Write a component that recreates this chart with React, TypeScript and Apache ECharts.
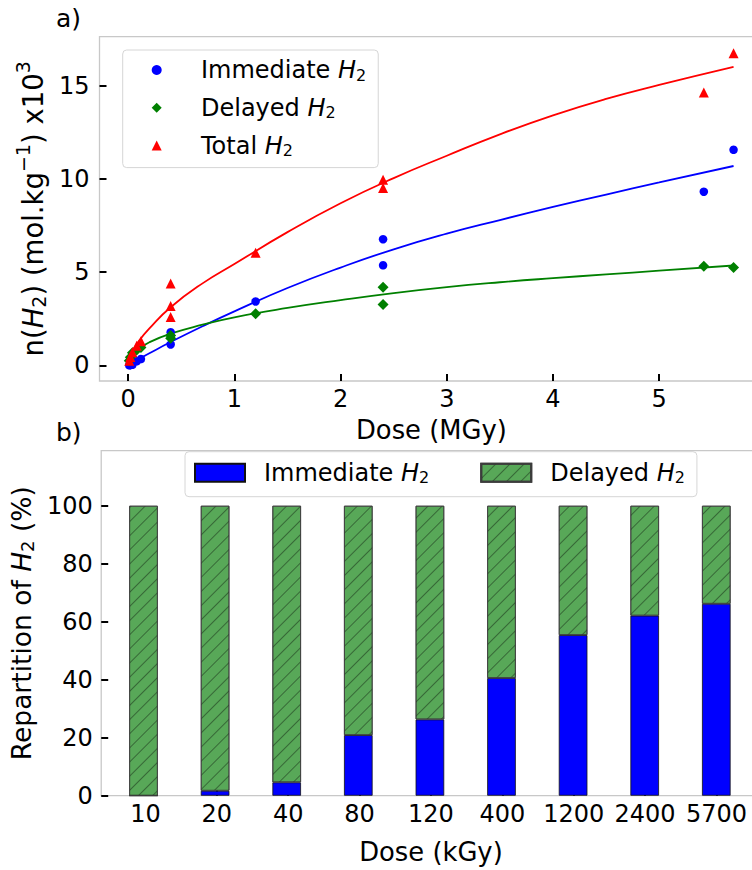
import React, { useEffect, useRef } from 'react';
import * as echarts from 'echarts';

const FONT = 'DejaVu Sans';

// ---------- Panel a) : n(H2) vs dose (MGy) ----------
const immDose = [0.01, 0.02, 0.04, 0.08, 0.12, 0.4, 0.4, 1.2, 2.4, 2.4, 5.42, 5.7];
const immVal = [0.0, 0.01, 0.03, 0.22, 0.34, 1.78, 1.12, 3.43, 6.77, 5.37, 9.32, 11.57];

const delDose = [0.01, 0.02, 0.04, 0.08, 0.12, 0.4, 0.4, 1.2, 2.4, 2.4, 5.42, 5.7];
const delVal = [0.25, 0.44, 0.67, 0.83, 0.96, 1.6, 1.45, 2.77, 4.19, 3.27, 5.32, 5.25];

const totDose = [0.01, 0.02, 0.04, 0.08, 0.12, 0.4, 0.4, 0.4, 1.2, 2.4, 2.4, 5.42, 5.7];
const totVal = [0.25, 0.45, 0.7, 1.05, 1.3, 4.39, 3.18, 2.6, 6.05, 9.96, 9.52, 14.64, 16.75];

// fitted curves
const fitDose = [0, 0.02, 0.05, 0.1, 0.2, 0.4, 0.7, 1.0, 1.5, 2.0, 2.5, 3.0, 3.5, 4.0, 4.5, 5.0, 5.7];
const immFit = [0, 0.08, 0.18, 0.34, 0.65, 1.25, 2.1, 2.9, 4.15, 5.25, 6.23, 7.07, 7.8, 8.5, 9.17, 9.82, 10.7];
const delFit = [0, 0.45, 0.67, 0.88, 1.24, 1.7, 2.18, 2.58, 3.08, 3.5, 3.88, 4.2, 4.46, 4.68, 4.88, 5.08, 5.36];
const totFit = [0, 0.48, 0.85, 1.3, 1.98, 3.12, 4.4, 5.44, 7.15, 8.7, 10.05, 11.25, 12.4, 13.42, 14.3, 15.05, 16.02];

const xTicksA = [0, 1, 2, 3, 4, 5];
const yTicksA = [0, 5, 10, 15];

// ---------- Panel b) : repartition (%) ----------
const doseCats = ['10', '20', '40', '80', '120', '400', '1200', '2400', '5700'];
const immPct = [0, 1.7, 4.6, 20.9, 26.3, 40.6, 55.4, 62.1, 66.2];
const delPct = [100, 98.3, 95.4, 79.1, 73.7, 59.4, 44.6, 37.9, 33.8];
const yTicksB = [0, 20, 40, 60, 80, 100];

const legendA: Record<string, string> = { Immediate: 'Immediate', Delayed: 'Delayed', Total: 'Total' };
const legendB: Record<string, string> = { 'Immediate %': 'Immediate', 'Delayed %': 'Delayed' };

const zip = (xs: number[], ys: number[]) => xs.map((x, i) => [x, ys[i]]);

const SPINE = '#c8c8c8';
const NAME_SIZE = 25.8;
const TICK_SIZE = 24;

function richFor(size: number, gap?: number) {
  const r: any = {
    i: { fontStyle: 'italic', fontSize: size, fontFamily: FONT, color: '#000' },
    sub: { fontSize: Math.round(size * 0.68), fontFamily: FONT, color: '#000', padding: [Math.round(size * 0.42), 0, 0, 0] },
    sup: { fontSize: Math.round(size * 0.7), fontFamily: FONT, color: '#000', padding: [0, 0, Math.round(size * 0.68), 0] },
  };
  if (gap != null) r.gap = { width: gap, fontSize: size, fontFamily: FONT };
  return r;
}

const tickStyle = { inside: true, length: 7, lineStyle: { color: '#000', width: 2 } };
const tickRich = { t: { fontSize: TICK_SIZE, fontFamily: FONT, color: '#000' } };
const nameStyle = (size: number) => ({ fontSize: size, fontFamily: FONT, color: '#000', rich: richFor(size) });
const tickLabel = (margin: number, values: number[], fmt: (v: number) => string) => ({
  fontSize: TICK_SIZE, fontFamily: FONT, color: '#000', margin, customValues: values,
  hideOverlap: false, formatter: (v: number) => `{t|${fmt(v)}}`, rich: tickRich,
});

export default function App() {
  const ref = useRef<HTMLDivElement>(null);

  useEffect(() => {
    if (!ref.current) return;
    const chart = echarts.init(ref.current, undefined, { renderer: 'svg' });

    const option: any = {
      animation: false,
      textStyle: { fontFamily: FONT, color: '#000' },
      grid: [
        { left: 99.5, top: 36.7, width: 663.8, height: 344.3, show: true, borderColor: SPINE, borderWidth: 1.3, backgroundColor: 'transparent' },
        { left: 99.1, top: 450.7, width: 661.6, height: 345, show: true, borderColor: SPINE, borderWidth: 1.3, backgroundColor: 'transparent' },
        // band layout for the bars (same vertical extent as the visible panel b)
        { left: 107.7, top: 450.7, width: 644.4, height: 345, show: false },
      ],
      xAxis: [
        {
          type: 'value', gridIndex: 0, min: -0.27, max: 5.98,
          axisLine: { show: false, onZero: false },
          axisTick: { ...tickStyle, customValues: xTicksA },
          axisLabel: tickLabel(6, xTicksA, (v) => String(v)),
          splitLine: { show: false },
          name: 'Dose (MGy)', nameLocation: 'middle', nameGap: 36,
          nameTextStyle: nameStyle(NAME_SIZE),
        },
        {
          type: 'value', gridIndex: 1, min: -0.62, max: 8.62,
          axisLine: { show: false, onZero: false },
          axisTick: { ...tickStyle, customValues: doseCats.map((_, i) => i) },
          axisLabel: tickLabel(6, doseCats.map((_, i) => i), (v) => doseCats[Math.round(v)] ?? ''),
          splitLine: { show: false },
          name: 'Dose (kGy)', nameLocation: 'middle', nameGap: 43,
          nameTextStyle: nameStyle(NAME_SIZE),
        },
        {
          type: 'category', gridIndex: 2, data: doseCats, show: false,
          axisLine: { onZero: false },
        },
      ],
      yAxis: [
        {
          type: 'value', gridIndex: 0, min: -0.84, max: 17.64,
          axisLine: { show: false, onZero: false },
          axisTick: { ...tickStyle, customValues: yTicksA },
          axisLabel: tickLabel(10, yTicksA, (v) => String(v)),
          splitLine: { show: false },
          name: 'n({i|H}{sub|2}) (mol.kg{sup|−1}) x10{sup|3}', nameLocation: 'middle', nameGap: 37,
          nameTextStyle: nameStyle(27.5),
        },
        {
          type: 'value', gridIndex: 1, min: 0, max: 119,
          axisLine: { show: false, onZero: false },
          axisTick: { ...tickStyle, customValues: yTicksB },
          axisLabel: tickLabel(8.5, yTicksB, (v) => String(v)),
          splitLine: { show: false },
          name: 'Repartition of {i|H}{sub|2} (%)', nameLocation: 'middle', nameGap: 57,
          nameTextStyle: nameStyle(26.5),
        },
        {
          type: 'value', gridIndex: 2, min: 0, max: 119, show: false,
        },
      ],
      legend: [
        {
          orient: 'vertical', left: 122.7, top: 50,
          padding: [8, 12, 9, 29], itemGap: 12.8, itemWidth: 10, itemHeight: 10,
          backgroundColor: 'rgba(255,255,255,0.8)', borderColor: '#d6d6d6', borderWidth: 1, borderRadius: 4,
          selectedMode: false,
          data: [
            { name: 'Immediate', icon: 'circle' },
            { name: 'Delayed', icon: 'diamond' },
            { name: 'Total', icon: 'triangle' },
          ],
          formatter: (n: string) => `{gap| }${legendA[n]} {i|H}{sub|2}`,
          textStyle: { fontSize: 24, fontFamily: FONT, color: '#000', rich: richFor(24, 34.3) },
        },
        {
          orient: 'horizontal', left: 185, top: 451.7,
          padding: [9, 12, 11, 9], itemGap: 51, itemWidth: 50, itemHeight: 18,
          backgroundColor: 'rgba(255,255,255,0.8)', borderColor: '#d6d6d6', borderWidth: 1, borderRadius: 4,
          selectedMode: false,
          data: [
            { name: 'Immediate %', icon: 'rect' },
            { name: 'Delayed %', icon: 'rect' },
          ],
          formatter: (n: string) => `{gap| }${legendB[n]} {i|H}{sub|2}`,
          textStyle: { fontSize: 24, fontFamily: FONT, color: '#000', rich: richFor(24, 14) },
        },
      ],
      graphic: [
        { type: 'text', left: 56, top: 6, style: { text: 'a)', fontSize: 25, fontFamily: FONT, fill: '#000' } },
        { type: 'text', left: 56, top: 420, style: { text: 'b)', fontSize: 25, fontFamily: FONT, fill: '#000' } },
      ],
      series: [
        {
          type: 'line', name: 'Immediate fit', xAxisIndex: 0, yAxisIndex: 0,
          data: zip(fitDose, immFit), smooth: 0.5, showSymbol: false, symbol: 'none',
          lineStyle: { color: '#0000ff', width: 1.8 }, itemStyle: { color: '#0000ff' }, z: 2,
        },
        {
          type: 'line', name: 'Delayed fit', xAxisIndex: 0, yAxisIndex: 0,
          data: zip(fitDose, delFit), smooth: 0.5, showSymbol: false, symbol: 'none',
          lineStyle: { color: '#008000', width: 1.8 }, itemStyle: { color: '#008000' }, z: 2,
        },
        {
          type: 'line', name: 'Total fit', xAxisIndex: 0, yAxisIndex: 0,
          data: zip(fitDose, totFit), smooth: 0.5, showSymbol: false, symbol: 'none',
          lineStyle: { color: '#ff0000', width: 1.8 }, itemStyle: { color: '#ff0000' }, z: 2,
        },
        {
          type: 'scatter', name: 'Immediate', xAxisIndex: 0, yAxisIndex: 0,
          data: zip(immDose, immVal), symbol: 'circle', symbolSize: 8.5,
          itemStyle: { color: '#0000ff', opacity: 1 }, z: 3,
        },
        {
          type: 'scatter', name: 'Delayed', xAxisIndex: 0, yAxisIndex: 0,
          data: zip(delDose, delVal), symbol: 'diamond', symbolSize: 11,
          itemStyle: { color: '#008000', opacity: 1 }, z: 3,
        },
        {
          type: 'scatter', name: 'Total', xAxisIndex: 0, yAxisIndex: 0,
          data: zip(totDose, totVal), symbol: 'triangle', symbolSize: 10,
          itemStyle: { color: '#ff0000', opacity: 1 }, z: 3,
        },
        {
          type: 'bar', name: 'Immediate %', xAxisIndex: 2, yAxisIndex: 2, stack: 'rep',
          data: immPct, barWidth: 28.6,
          itemStyle: { color: '#0000ff', borderColor: '#111111', borderWidth: 0.8 },
        },
        {
          type: 'bar', name: 'Delayed %', xAxisIndex: 2, yAxisIndex: 2, stack: 'rep',
          data: delPct, barWidth: 28.6,
          itemStyle: {
            color: '#58a858', borderColor: '#3c3c3c', borderWidth: 0.8,
            decal: {
              symbol: 'rect', symbolSize: 1, dashArrayX: [1, 0], dashArrayY: [1, 8.5],
              rotation: -Math.PI / 4, color: 'rgba(0,0,0,0.38)',
            },
          },
        },
      ],
    };

    chart.setOption(option);
    return () => chart.dispose();
  }, []);

  return (
    <div style={{ position: 'absolute', left: 0, top: 0, width: 752, height: 870, overflow: 'hidden', background: '#fff' }}>
      <div ref={ref} style={{ width: 780, height: 870 }} />
    </div>
  );
}
